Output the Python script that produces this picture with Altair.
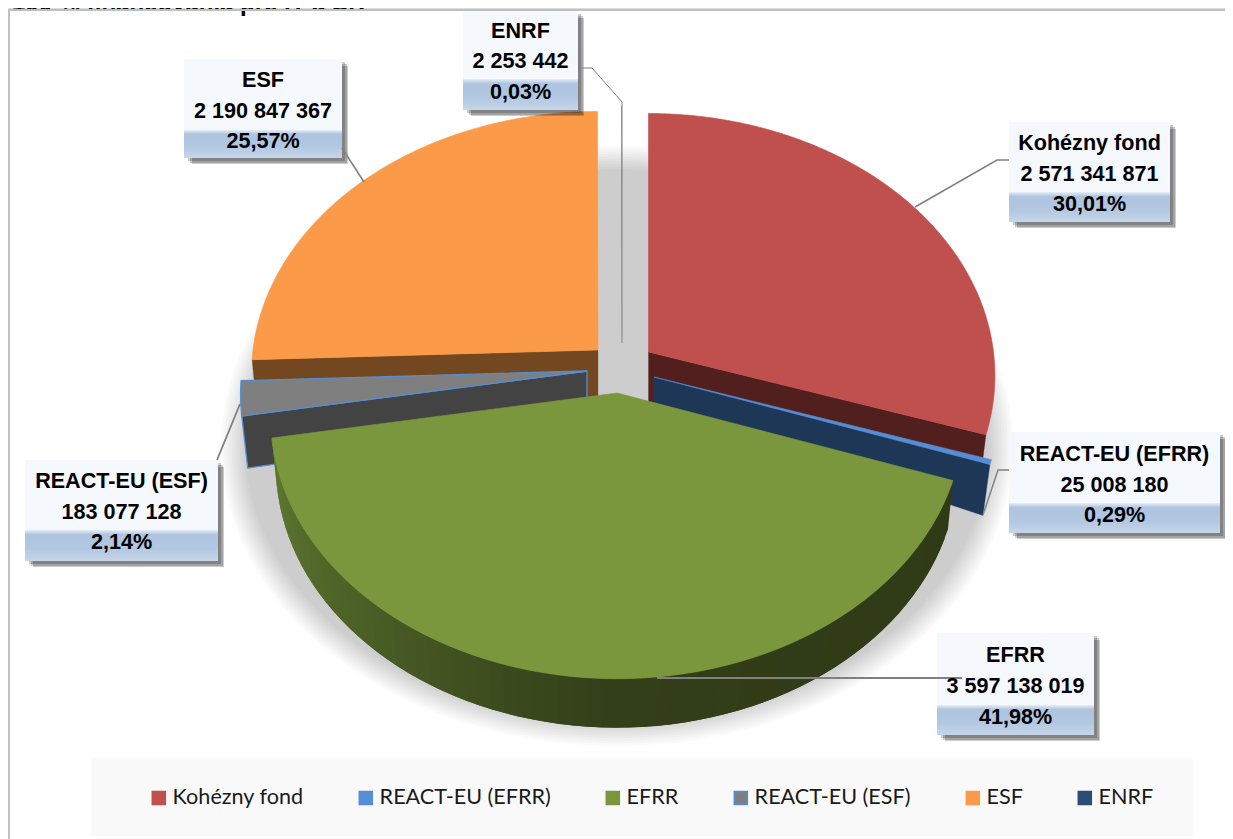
import math
import altair as alt

# ---- chart values ----
CATEGORIES = ["Kohézny fond", "REACT-EU (EFRR)", "EFRR", "REACT-EU (ESF)", "ESF", "ENRF"]
VALUES = [2571341871, 25008180, 3597138019, 183077128, 2190847367, 2253442]
PERCENTS = ["30,01%", "0,29%", "41,98%", "2,14%", "25,57%", "0,03%"]
TITLE = "100 % financovania pre IT a SR"

# ---- styles ----
FILLS = ["#c0504d", "#558ed5", "#7a973d", "#7f7f7f", "#fb9a48", "#2c4d75"]
STROKES = ["#c0504d", "#558ed5", "#7a973d", "#558ed5", "#fb9a48", "#2c4d75"]
WALLS = ["#521f1f", "#1f3757", None, "#434343", "#73471f", None]
STROKE_W = [0.6, 0.6, 0.6, 1.3, 0.6, 0]

# ---- layout of the perspective pie (page pixels) ----
W, H = 1217, 831
R, Q, P = 345.0, 260.0, 0.09
APEX = [(648.5, 352), (654, 377), (617, 393), (587, 371), (598, 350), (622, 344)]
BOXES = [(1009, 1170, 122, 192, 222), (1009, 1220, 432, 503, 533), (937, 1094, 633, 705, 735),
         (25, 218, 460, 530, 561), (184, 342, 59, 130, 158), (463, 578, 11, 79, 110)]
ROWS = [(143.5, 174.5, 205), (454.5, 485.5, 516), (655.5, 686.5, 718),
        (481.5, 512.5, 543), (80.5, 111.5, 142), (31.5, 61.5, 93)]
LEADERS = [[(1009, 160), (997, 160), (915, 207)],
           [(1009, 470), (998, 470), (983, 515)],
           [(657, 678), (962, 678)],
           [(217, 460), (240, 404)],
           [(342, 148), (364, 182)],
           [(578, 68), (592, 68), (622, 102), (622, 343)]]
LEADER_W = [1.6, 1.4, 2.0, 1.8, 1.6, 1.0]

total = sum(VALUES)
edges = [0.0]
for v in VALUES:
    edges.append(edges[-1] + 360.0 * v / total)


def rim(theta, apex):
    t = math.radians(theta)
    u, v = math.sin(t), math.cos(t)
    d = 1 + P * v
    return (apex[0] + R * u / d, apex[1] - Q * v / d)


def feature(points, **props):
    ring = [[round(a, 2), round(b, 2)] for a, b in points]
    ring.append(ring[0])
    return {"type": "Feature", "properties": props,
            "geometry": {"type": "Polygon", "coordinates": [ring]}}


def hexmix(a, b, f):
    ca = [int(a[i:i + 2], 16) for i in (1, 3, 5)]
    cb = [int(b[i:i + 2], 16) for i in (1, 3, 5)]
    return "#%02x%02x%02x" % tuple(round(x + (y - x) * f) for x, y in zip(ca, cb))


# soft shadow under the pie
shadow = []
for k in range(10):
    grow = 1 - k / 9
    rx, ry = 372 + 24 * grow, 277 + 23 * grow
    pts = [(617 + rx * math.cos(math.radians(a)), 446 + ry * math.sin(math.radians(a)))
           for a in range(0, 360, 3)]
    shadow.append(feature(pts, n=k))

# cut faces of the exploded slices
walls = []
def face(i, theta, apex_depth, dx, rim_depth):
    a = APEX[i]
    e = rim(theta, a)
    walls.append(feature([a, e, (e[0] + dx, e[1] + rim_depth), (a[0], a[1] + apex_depth)],
                         fill=WALLS[i], stroke=STROKES[i] if i == 3 else WALLS[i],
                         sw=STROKE_W[i] if i == 3 else 0.3))

face(4, edges[4], 50, 5, 52)
face(0, edges[1], 52, -7, 55)
face(1, edges[2], 29, -7, 51)
face(3, edges[3], 49, 6, 52)

# outer rim of the big slice, shaded from left to right; strips overlap so no seams show
a2 = APEX[2]
N = 70
span = edges[3] - edges[2]
for j in range(N):
    t0 = edges[2] + span * j / N
    t1 = edges[2] + span * min(j + 2, N) / N
    f = j / N
    col = hexmix("#2f3a16", "#333f19", f / 0.47) if f < 0.47 else hexmix("#333f19", "#5f7b32", (f - 0.47) / 0.53)
    p0, p1 = rim(t0, a2), rim(t1, a2)
    q0 = (a2[0] + (p0[0] - a2[0]) * 0.985, p0[1] + 49)
    q1 = (a2[0] + (p1[0] - a2[0]) * 0.985, p1[1] + 49)
    walls.append(feature([p0, p1, q1, q0], fill=col, stroke=col, sw=0))

# top faces
tops = []
for i in [5, 4, 0, 1, 3, 2]:
    pts = [APEX[i]]
    n = max(2, int((edges[i + 1] - edges[i]) * 2))
    for j in range(n + 1):
        pts.append(rim(edges[i] + (edges[i + 1] - edges[i]) * j / n, APEX[i]))
    tops.append(feature(pts, series=CATEGORIES[i], sw=STROKE_W[i]))

PROJ = dict(type="identity", scale=1, translate=[-8, -8])
X_SCALE = alt.Scale(domain=[8, 1225], nice=False, zero=False)
Y_SCALE = alt.Scale(domain=[839, 8], nice=False, zero=False)
NOAX = None


def xy(**kw):
    return dict(x=alt.X("x:Q", scale=X_SCALE, axis=NOAX), y=alt.Y("y:Q", scale=Y_SCALE, axis=NOAX), **kw)


def rect_enc():
    return dict(x=alt.X("x0:Q", scale=X_SCALE, axis=NOAX), x2="x1:Q",
                y=alt.Y("y0:Q", scale=Y_SCALE, axis=NOAX), y2="y1:Q")


def fmt(v):
    return f"{v:,}".replace(",", " ")


frame = alt.Chart(alt.Data(values=[{"x": 9, "y": 839, "k": 0}, {"x": 9, "y": 10, "k": 1}, {"x": 1233, "y": 10, "k": 2}])).mark_line(
    color="#bfbfbf", strokeWidth=2).encode(**xy(), order="k:Q")

title = alt.Chart(alt.Data(values=[{"x": 12, "y": 11, "t": TITLE}])).mark_text(
    align="left", baseline="alphabetic", font="Liberation Sans", fontWeight="bold", fontSize=24, color="#000000"
).encode(**xy(), text="t:N")

shadow_layer = alt.Chart(alt.Data(values=shadow)).mark_geoshape(
    fill="#000000", fillOpacity=0.0215, strokeWidth=0).project(**PROJ)

wall_layer = alt.Chart(alt.Data(values=walls)).mark_geoshape().encode(
    fill=alt.Fill("properties.fill:N", scale=None),
    stroke=alt.Stroke("properties.stroke:N", scale=None),
    strokeWidth=alt.StrokeWidth("properties.sw:Q", scale=None),
).project(**PROJ)

legend = alt.Legend(orient="none", legendX=140, legendY=779, columns=6, columnPadding=51, title=None,
                    symbolType="square", symbolSize=170, symbolStrokeWidth=1.5, symbolOpacity=1,
                    labelFont="Lato", labelFontSize=21.6, labelColor="#1a1a1a", labelOffset=3,
                    labelLimit=400, padding=0, rowPadding=0)
top_layer = alt.Chart(alt.Data(values=tops)).mark_geoshape().encode(
    color=alt.Color("properties.series:N", scale=alt.Scale(domain=CATEGORIES, range=FILLS), legend=legend, sort=CATEGORIES),
    stroke=alt.Stroke("properties.series:N", scale=alt.Scale(domain=CATEGORIES, range=STROKES), legend=legend, sort=CATEGORIES),
    strokeWidth=alt.StrokeWidth("properties.sw:Q", scale=None),
).project(**PROJ)

legend_bg = alt.Chart(alt.Data(values=[{"x0": 91, "x1": 1193, "y0": 758, "y1": 836}])).mark_rect(
    color="#f9f9f9").encode(**rect_enc())

box_rows, band_rows, shadow_rows, text_rows, leader_rows = [], [], [], [], []
for i, name in enumerate(CATEGORIES):
    x0, x1, y0, ym, y1 = BOXES[i]
    box_rows.append({"x0": x0, "x1": x1, "y0": y0, "y1": ym + 1})
    band_rows.append({"x0": x0, "x1": x1, "y0": ym, "y1": y1})
    for off, inset in ((3, 0), (5, 0), (7, 1)):
        shadow_rows.append({"x0": x0 + off + 1, "x1": x1 + off - inset, "y0": y0 + off, "y1": y1 + off - inset})
    cx = (x0 + x1) / 2
    for y, t in zip(ROWS[i], (name, fmt(VALUES[i]), PERCENTS[i])):
        text_rows.append({"x": cx, "y": y, "t": t})
    for k, (px, py) in enumerate(LEADERS[i]):
        leader_rows.append({"x": px, "y": py, "g": name, "k": k, "w": LEADER_W[i]})

box_shadow = alt.Chart(alt.Data(values=shadow_rows)).mark_rect(color="#000000", opacity=0.2).encode(**rect_enc())
boxes = alt.Chart(alt.Data(values=box_rows)).mark_rect(color="#f5f8fc").encode(**rect_enc())
band = alt.Chart(alt.Data(values=band_rows)).mark_rect(
    fill=alt.Gradient(gradient="linear", x1=0, x2=0, y1=0, y2=1, stops=[
        alt.GradientStop(color="#e8eef6", offset=0),
        alt.GradientStop(color="#aec4df", offset=0.15),
        alt.GradientStop(color="#b2c7e1", offset=0.6),
        alt.GradientStop(color="#c6d6ea", offset=1)])
).encode(**rect_enc())

leaders = alt.Chart(alt.Data(values=leader_rows)).mark_line(color="#808080").encode(
    **xy(), detail="g:N", order="k:Q",
    strokeWidth=alt.StrokeWidth("w:Q", scale=None))

labels = alt.Chart(alt.Data(values=text_rows)).mark_text(
    align="center", baseline="middle", font="Liberation Sans", fontWeight="bold", fontSize=21.6, color="#000000"
).encode(**xy(), text="t:N")

chart = alt.layer(
    title, frame, shadow_layer, wall_layer, top_layer, legend_bg,
    box_shadow, boxes, band, leaders, labels
).properties(
    width=W, height=H, padding=0, autosize=alt.AutoSizeParams(type="none")
).configure_view(stroke=None).configure(background="#ffffff")

chart.save("out.html", embed_options={"renderer": "svg", "actions": False})
